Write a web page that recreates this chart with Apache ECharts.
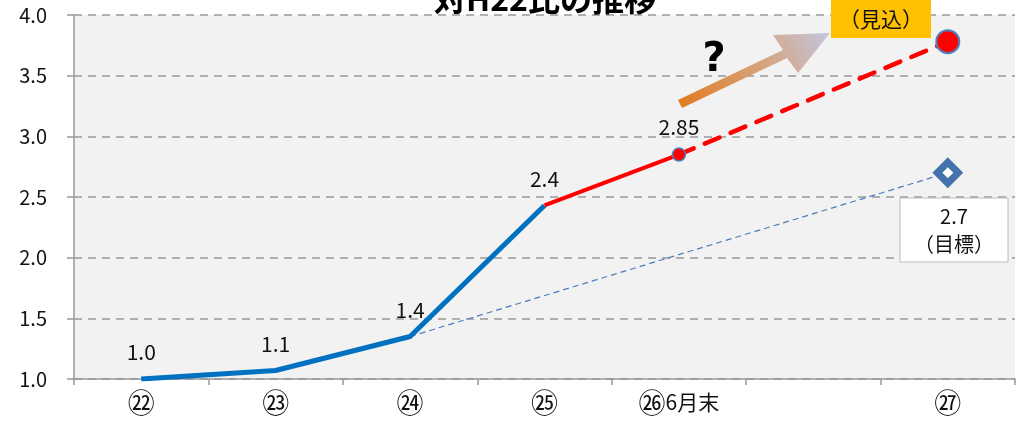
<!DOCTYPE html>
<html>
<head>
<meta charset="utf-8">
<script src="https://cdn.jsdelivr.net/npm/echarts@6/dist/echarts.min.js"></script>
<style>
  html, body { margin: 0; padding: 0; background: #fff; }
  #main { width: 1019px; height: 425px; }
</style>
</head>
<body>
<div id="main"></div>
<script>
// カテゴリ（年度）
var categories = ['㉒', '㉓', '㉔', '㉕', '㉖6月末', '', '㉗'];
// 実績（青線）
var actualValues = [1.0, 1.07, 1.35, 2.43, '-', '-', '-'];
var actualLabels = ['1.0', '1.1', '1.4', '2.4'];
// 直近（赤実線）
var recentValues = ['-', '-', '-', 2.43, 2.85, '-', '-'];
// 見込（赤破線）
var forecastValues = ['-', '-', '-', '-', 2.85, '-', 3.78];
// 目標（青破線）
var targetValues = ['-', '-', 1.35, '-', '-', '-', 2.7];
var yTicks = [1.0, 1.5, 2.0, 2.5, 3.0, 3.5, 4.0];

var FONT = '"Noto Sans CJK JP", "Noto Sans", sans-serif';

var chart = echarts.init(document.getElementById('main'));

var option = {
  animation: false,
  grid: { left: 74, right: 4, top: 15, bottom: 46, show: true, backgroundColor: '#f2f2f2', borderWidth: 0 },
  xAxis: {
    type: 'category',
    data: categories,
    boundaryGap: true,
    axisLine: { lineStyle: { color: '#999', width: 1.5 } },
    axisTick: { show: true, length: 6, lineStyle: { color: '#999', width: 1.5 } },
    axisLabel: {
      color: '#111', fontFamily: FONT, margin: 10, interval: 0,
      formatter: function (v) {
        if (!v) return '';
        return '{c|' + v.charAt(0) + '}' + (v.length > 1 ? '{t|' + v.slice(1) + '}' : '');
      },
      rich: {
        c: { fontSize: 27, fontFamily: FONT, color: '#111' },
        t: { fontSize: 21, fontFamily: FONT, color: '#111' }
      }
    },
    splitLine: { show: false }
  },
  yAxis: {
    type: 'value',
    min: yTicks[0],
    max: yTicks[yTicks.length - 1],
    interval: 0.5,
    axisLine: { show: true, lineStyle: { color: '#999', width: 1.5 } },
    axisTick: { show: true, length: 7, lineStyle: { color: '#999', width: 1.5 } },
    axisLabel: {
      color: '#111', fontSize: 20, fontFamily: FONT, margin: 27,
      formatter: function (v) { return v.toFixed(1); }
    },
    splitLine: { lineStyle: { color: '#999', type: [8, 6], width: 1.5 } }
  },
  series: [
    {
      name: '目標',
      type: 'line',
      data: targetValues,
      connectNulls: true,
      symbol: 'none',
      lineStyle: { color: '#4a7cc0', width: 1.2, type: [6, 4] },
      z: 2,
      markPoint: {
        symbol: 'diamond',
        label: { show: false },
        data: [
          { coord: [6, 2.7], symbolSize: 28, itemStyle: { color: '#4472ac', borderColor: '#4472ac', borderWidth: 2 } },
          { coord: [6, 2.7], symbolSize: 11, itemStyle: { color: '#fff', borderWidth: 0 } }
        ]
      }
    },
    {
      name: '実績',
      type: 'line',
      data: actualValues,
      symbol: 'circle',
      symbolSize: 0,
      showSymbol: true,
      itemStyle: { color: '#0070c0' },
      lineStyle: { color: '#0070c0', width: 5 },
      z: 3,
      label: {
        show: true, position: 'top', distance: 16, color: '#111', fontSize: 21, fontFamily: FONT,
        formatter: function (p) { return actualLabels[p.dataIndex]; }
      }
    },
    {
      name: '直近',
      type: 'line',
      data: recentValues,
      symbol: 'circle',
      symbolSize: function (v, p) { return p.dataIndex === 4 ? 13 : 0; },
      showSymbol: true,
      itemStyle: { color: '#ff0000', borderColor: '#4f81bd', borderWidth: 1.5 },
      lineStyle: { color: '#ff0000', width: 4 },
      z: 4,
      label: {
        show: true, position: 'top', distance: 10, color: '#111', fontSize: 21, fontFamily: FONT,
        formatter: function (p) { return p.dataIndex === 4 ? '2.85' : ''; }
      }
    },
    {
      name: '見込',
      type: 'line',
      data: forecastValues,
      connectNulls: true,
      symbol: 'none',
      lineStyle: { color: '#ff0000', width: 4.5, type: [16, 12], cap: 'round' },
      z: 3,
      markPoint: {
        symbol: 'circle',
        symbolSize: 23,
        itemStyle: { color: '#ff0000', borderColor: '#4f81bd', borderWidth: 2 },
        label: { show: false },
        data: [{ coord: [6, 3.78] }]
      }
    }
  ],
  graphic: [
    {
      type: 'text', x: 545, y: -17, z: 10,
      style: { text: '対H22比の推移', font: 'bold 32px ' + FONT, fill: '#000', align: 'center' }
    },
    {
      type: 'rect', shape: { x: 831, y: -4, width: 100, height: 42 }, z: 10,
      style: { fill: '#ffc000' }
    },
    {
      type: 'text', x: 881, y: 19, z: 11,
      style: { text: '（見込）', font: '21px ' + FONT, fill: '#111', align: 'center', verticalAlign: 'middle' }
    },
    {
      type: 'polygon', z: 10,
      shape: { points: [[678, 100], [783, 50], [773, 35], [830, 33], [798, 73], [787, 58], [682, 108]] },
      style: {
        fill: new echarts.graphic.LinearGradient(0, 1, 1, 0, [
          { offset: 0, color: '#e27a1e' },
          { offset: 0.55, color: '#d6a27a' },
          { offset: 1, color: '#c4c6de' }
        ])
      }
    },
    {
      type: 'text', x: 714, y: 61, z: 11,
      style: { text: '?', font: '900 40px "DejaVu Sans", sans-serif', fill: '#000', align: 'center', verticalAlign: 'middle' }
    },
    {
      type: 'rect', shape: { x: 900, y: 198, width: 108, height: 64 }, z: 10,
      style: { fill: '#fff', stroke: '#bbb', lineWidth: 1 }
    },
    {
      type: 'text', x: 954, y: 230, z: 11,
      style: { text: '2.7\n（目標）', font: '20px ' + FONT, lineHeight: 28, fill: '#111', align: 'center', verticalAlign: 'middle' }
    }
  ]
};

chart.setOption(option);
</script>
</body>
</html>
